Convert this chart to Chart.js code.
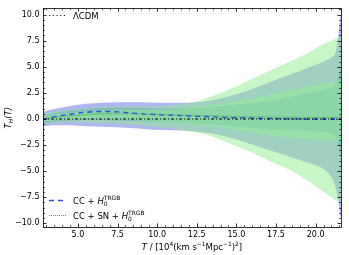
<!DOCTYPE html>
<html>
<head>
<meta charset="utf-8">
<script src="https://cdn.jsdelivr.net/npm/chart.js@4"></script>
<style>
  html, body { margin: 0; padding: 0; background: #fff; }
  #wrap { width: 349px; height: 255px; }
</style>
</head>
<body>
<div id="wrap"><canvas id="chart"></canvas></div>
<script>
// T grid (10^4 (km/s/Mpc)^2)
const tGrid = [2.8, 3.5, 4.5, 5.5, 6.5, 7.5, 8.5, 9.5, 10.5, 11.5, 12.5, 13.5, 14.5, 15.5, 16.5, 17.5, 18.5, 19.5, 20.5, 21.0, 21.3, 21.6];

// CC + H0^TRGB reconstruction
const ccMean   = [-0.06, 0.2, 0.45, 0.65, 0.72, 0.68, 0.55, 0.45, 0.38, 0.32, 0.26, 0.2, 0.13, 0.1, 0.06, 0.03, 0.01, 0.0, 0.0, 0.0, 0.0, 0.0];
const cc1Up    = [0.35, 0.55, 0.8, 0.95, 1.05, 1.1, 1.1, 1.05, 1.0, 1.0, 1.05, 1.15, 1.3, 1.45, 1.6, 1.85, 2.15, 2.45, 2.8, 3.0, 3.4, 5.0];
const cc1Lo    = [-0.45, -0.3, -0.15, -0.1, -0.1, -0.15, -0.2, -0.25, -0.3, -0.35, -0.45, -0.55, -0.65, -0.8, -0.95, -1.0, -1.1, -1.15, -1.25, -1.4, -1.8, -3.5];
const cc2Up    = [0.7, 0.95, 1.25, 1.45, 1.55, 1.6, 1.6, 1.58, 1.55, 1.55, 1.6, 1.8, 2.15, 2.6, 3.15, 3.75, 4.3, 4.9, 5.5, 5.9, 6.6, 10.3];
const cc2Lo    = [-0.7, -0.6, -0.6, -0.7, -0.75, -0.8, -0.9, -1.0, -1.05, -1.1, -1.2, -1.4, -1.75, -2.2, -2.7, -3.2, -3.7, -4.2, -4.8, -5.6, -6.8, -9.6];

// CC + SN + H0^TRGB reconstruction
const snMean   = [0.0, 0.15, 0.3, 0.42, 0.48, 0.5, 0.5, 0.46, 0.42, 0.38, 0.33, 0.3, 0.26, 0.22, 0.2, 0.18, 0.17, 0.16, 0.16, 0.16, 0.16, 0.16];
const sn1Up    = [0.3, 0.45, 0.6, 0.75, 0.8, 0.85, 0.85, 0.85, 0.85, 0.95, 1.15, 1.35, 1.55, 1.85, 2.1, 2.5, 2.8, 3.1, 3.4, 3.5, 3.6, 3.7];
const sn1Lo    = [-0.25, -0.15, -0.05, 0.0, 0.0, -0.05, -0.1, -0.2, -0.3, -0.4, -0.55, -0.7, -0.95, -1.2, -1.45, -1.65, -1.8, -1.95, -2.0, -2.1, -2.15, -2.2];
const sn2Up    = [0.55, 0.7, 0.9, 1.05, 1.15, 1.2, 1.2, 1.2, 1.25, 1.4, 1.7, 2.2, 2.8, 3.5, 4.2, 4.9, 5.6, 6.3, 7.2, 7.5, 7.7, 7.9];
const sn2Lo    = [-0.5, -0.4, -0.35, -0.35, -0.4, -0.45, -0.55, -0.7, -0.85, -1.05, -1.3, -1.7, -2.3, -2.9, -3.6, -4.3, -5.0, -5.9, -7.0, -7.5, -7.8, -8.0];

// LCDM reference
const lcdm     = [0, 0, 0, 0, 0, 0, 0, 0, 0, 0, 0, 0, 0, 0, 0, 0, 0, 0, 0, 0, 0, 0];

const xTicks = [5.0, 7.5, 10.0, 12.5, 15.0, 17.5, 20.0];
const yTicks = [-10.0, -7.5, -5.0, -2.5, 0.0, 2.5, 5.0, 7.5, 10.0];

const FONT = "'DejaVu Sans', sans-serif";
const BLUE_FILL = "rgba(80, 90, 225, 0.45)";
const GREEN_FILL = "rgba(144, 238, 144, 0.5)";
const BLUE_LINE = "#2a4ee6";
const GREEN_LINE = "#3cb043";

function pts(arr) {
    return tGrid.map((t, i) => ({ x: t, y: arr[i] }));
}

function band(up, lo, color, order) {
    return [
        { data: pts(up), fill: "+1", backgroundColor: color, borderWidth: 0, borderColor: "transparent", pointRadius: 0, order: order },
        { data: pts(lo), fill: false, borderWidth: 0, borderColor: "transparent", pointRadius: 0, order: order }
    ];
}

// text pieces: {t, it, sub, sup, over}; "over" puts the piece above the previous one
function richWidth(ctx, parts, size) {
    let cx = 0, lastX = 0;
    parts.forEach(p => {
        const s = (p.sub || p.sup) ? size * 0.7 : size;
        ctx.font = (p.it ? "italic " : "") + s + "px " + FONT;
        const w = ctx.measureText(p.t).width;
        if (!p.over) { lastX = cx; cx += w; } else { cx = Math.max(cx, lastX + w); }
    });
    return cx;
}

function drawRich(ctx, x, y, parts, size) {
    let cx = x, lastX = x;
    parts.forEach(p => {
        const s = (p.sub || p.sup) ? size * 0.7 : size;
        ctx.font = (p.it ? "italic " : "") + s + "px " + FONT;
        let dy = 0;
        if (p.sub) dy = size * 0.25;
        if (p.sup) dy = -size * 0.42;
        const px = p.over ? lastX : cx;
        ctx.fillText(p.t, px, y + dy);
        const w = ctx.measureText(p.t).width;
        if (!p.over) { lastX = cx; cx += w; } else { cx = Math.max(cx, lastX + w); }
    });
}

const decor = {
    id: "decor",
    afterDraw(chart) {
        const { ctx, chartArea: a, scales } = chart;
        const xs = scales.x, ys = scales.y;
        ctx.save();
        ctx.strokeStyle = "#000";
        ctx.lineWidth = 0.8;

        // inward ticks on all four sides
        ctx.beginPath();
        xTicks.forEach(v => {
            const px = Math.round(xs.getPixelForValue(v)) + 0.5;
            ctx.moveTo(px, a.bottom); ctx.lineTo(px, a.bottom - 3.5);
            ctx.moveTo(px, a.top); ctx.lineTo(px, a.top + 3.5);
        });
        yTicks.forEach(v => {
            const py = Math.round(ys.getPixelForValue(v)) + 0.5;
            ctx.moveTo(a.left, py); ctx.lineTo(a.left + 3.5, py);
            ctx.moveTo(a.right, py); ctx.lineTo(a.right - 3.5, py);
        });
        ctx.stroke();
        ctx.lineWidth = 0.6;
        ctx.beginPath();
        for (let v = Math.ceil(xs.min * 2) / 2; v <= xs.max; v += 0.5) {
            if (Math.abs(v / 2.5 - Math.round(v / 2.5)) < 1e-6) continue;
            const px = Math.round(xs.getPixelForValue(v)) + 0.5;
            ctx.moveTo(px, a.bottom); ctx.lineTo(px, a.bottom - 2);
            ctx.moveTo(px, a.top); ctx.lineTo(px, a.top + 2);
        }
        for (let v = Math.ceil(ys.min * 2) / 2; v <= ys.max; v += 0.5) {
            if (Math.abs(v / 2.5 - Math.round(v / 2.5)) < 1e-6) continue;
            const py = Math.round(ys.getPixelForValue(v)) + 0.5;
            ctx.moveTo(a.left, py); ctx.lineTo(a.left + 2, py);
            ctx.moveTo(a.right, py); ctx.lineTo(a.right - 2, py);
        }
        ctx.stroke();

        // frame
        ctx.lineWidth = 0.8;
        ctx.strokeRect(Math.round(a.left) + 0.5, Math.round(a.top) + 0.5,
            Math.round(a.right - a.left), Math.round(a.bottom - a.top));

        ctx.fillStyle = "#000";
        ctx.textBaseline = "alphabetic";
        ctx.textAlign = "left";

        // x title
        const xParts = [
            { t: "T", it: true }, { t: " / [10" }, { t: "4", sup: true },
            { t: "(km s" }, { t: "−1", sup: true }, { t: "Mpc" }, { t: "−1", sup: true },
            { t: ")" }, { t: "2", sup: true }, { t: "]" }
        ];
        const xw = richWidth(ctx, xParts, 8.5);
        drawRich(ctx, (a.left + a.right) / 2 - xw / 2, 250, xParts, 8.5);

        // y title
        ctx.save();
        ctx.translate(11, (a.top + a.bottom) / 2);
        ctx.rotate(-Math.PI / 2);
        const yParts = [{ t: "T", it: true }, { t: "H", it: true, sub: true }, { t: "(", it: true }, { t: "T", it: true }, { t: ")", it: true }];
        const yw = richWidth(ctx, yParts, 8.5);
        drawRich(ctx, -yw / 2, 0, yParts, 8.5);
        ctx.restore();

        // legend entries
        const legend = [
            { y: 15, color: "#222", dash: [1.2, 2.5], width: 1.1,
              parts: [{ t: "ΛCDM" }] },
            { y: 200, color: BLUE_LINE, dash: [5, 4], width: 1.4,
              parts: [{ t: "CC + " }, { t: "H", it: true }, { t: "0", sub: true }, { t: "TRGB", sup: true, over: true }] },
            { y: 215, color: GREEN_LINE, dash: [1, 1], width: 1.2,
              parts: [{ t: "CC + SN + " }, { t: "H", it: true }, { t: "0", sub: true }, { t: "TRGB", sup: true, over: true }] }
        ];
        legend.forEach(e => {
            ctx.strokeStyle = e.color;
            ctx.lineWidth = e.width;
            ctx.setLineDash(e.dash);
            ctx.beginPath();
            ctx.moveTo(a.left + 6, e.y + 0.5);
            ctx.lineTo(a.left + 23, e.y + 0.5);
            ctx.stroke();
            ctx.setLineDash([]);
            drawRich(ctx, a.left + 30, e.y + 3.5, e.parts, 8.5);
        });
        ctx.restore();
    }
};

const datasets = [
    { data: pts(lcdm), borderColor: "#000", borderWidth: 1.1, borderDash: [3, 2, 1, 2], pointRadius: 0, fill: false, order: 0 },
    { data: pts(snMean), borderColor: GREEN_LINE, borderWidth: 1.2, borderDash: [1, 1], pointRadius: 0, fill: false, order: 1 },
    { data: pts(ccMean), borderColor: BLUE_LINE, borderWidth: 1.4, borderDash: [5, 4], pointRadius: 0, fill: false, order: 2 },
    ...band(sn1Up, sn1Lo, GREEN_FILL, 3),
    ...band(sn2Up, sn2Lo, GREEN_FILL, 4),
    ...band(cc1Up, cc1Lo, BLUE_FILL, 5),
    ...band(cc2Up, cc2Lo, BLUE_FILL, 6)
];

new Chart(document.getElementById("chart"), {
    type: "line",
    data: { datasets: datasets },
    options: {
        responsive: true,
        maintainAspectRatio: false,
        animation: false,
        events: [],
        elements: { line: { tension: 0, cubicInterpolationMode: "monotone" } },
        layout: { padding: { top: 4, right: 8, left: 0, bottom: 0 } },
        plugins: { legend: { display: false }, tooltip: { enabled: false } },
        scales: {
            x: {
                type: "linear",
                min: 2.8,
                max: 21.6,
                grid: { display: false, drawTicks: false, tickLength: 0 },
                border: { display: false },
                afterBuildTicks: s => { s.ticks = xTicks.map(v => ({ value: v })); },
                afterFit: s => { s.height = 28; },
                ticks: {
                    padding: 3,
                    color: "#000",
                    font: { family: FONT, size: 8 },
                    callback: v => v.toFixed(1)
                }
            },
            y: {
                min: -10.35,
                max: 10.6,
                grid: { display: false, drawTicks: false, tickLength: 0 },
                border: { display: false },
                afterBuildTicks: s => { s.ticks = yTicks.map(v => ({ value: v })); },
                afterFit: s => { s.width = 43; },
                ticks: {
                    padding: 3.5,
                    color: "#000",
                    font: { family: FONT, size: 8 },
                    callback: v => (v < 0 ? "−" : "") + Math.abs(v).toFixed(1)
                }
            }
        }
    },
    plugins: [decor]
});
</script>
</body>
</html>
